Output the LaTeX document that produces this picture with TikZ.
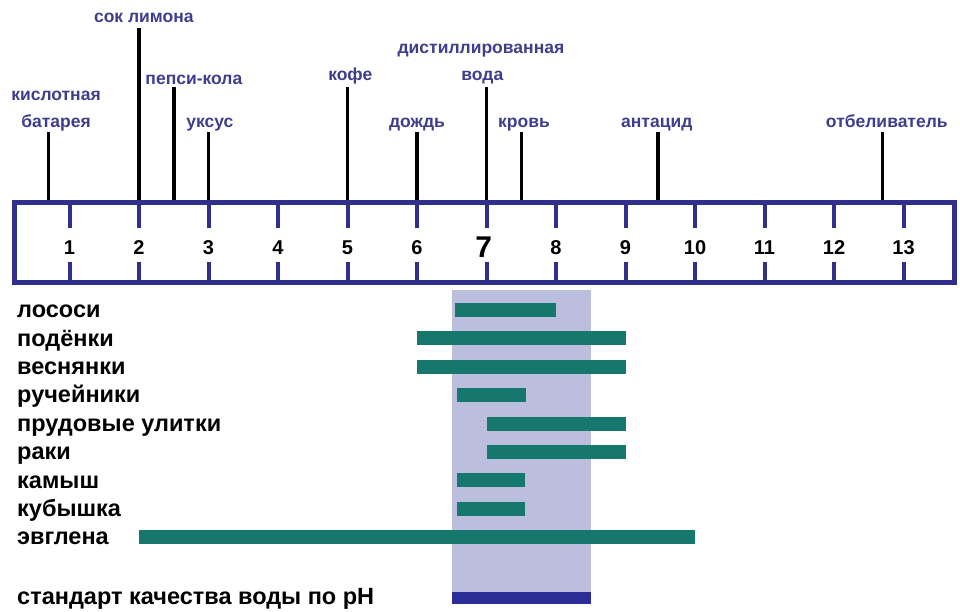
\documentclass[tikz,border=0pt]{standalone}
\usepackage{fontspec}
\setmainfont{Liberation Sans}
\usetikzlibrary{positioning}
\definecolor{rulerblue}{RGB}{48,48,140}
\definecolor{labelblue}{RGB}{62,62,140}
\definecolor{bandgrey}{RGB}{188,190,222}
\definecolor{barteal}{RGB}{22,120,108}
\definecolor{stdblue}{RGB}{44,44,150}
\tikzset{x = 69.5pt, y = -1pt,
	 ruler/.style = {draw = rulerblue, line width = 5pt,
			 minimum width = 940pt, minimum height = 80pt,
			 inner sep = 0pt},
	 tick/.style = {rulerblue, line width = 4pt},
	 pin/.style = {black, line width = 3.5pt},
	 substance/.style = {text = labelblue, anchor = base, inner sep = 0pt,
			     font = \fontsize{17.5}{20}\selectfont\bfseries},
	 phnum/.style = {font = \fontsize{20}{24}\selectfont\bfseries},
	 organism/.style = {anchor = mid west, inner sep = 0pt,
			    font = \fontsize{23.5}{28}\selectfont\bfseries},
	 rangebar/.style = {fill = barteal}}

\begin{document}
\begin{tikzpicture}
      \useasboundingbox (0,0) rectangle (13.813,612);
      \fill[bandgrey] (6.5,290) rectangle (8.5,604);
      \node [ruler] (scale) at (6.978,243) {};
      \foreach \n in {1,...,13} {
	\draw[tick] (\n,203) -- (\n,228);
	\draw[tick] (\n,262) -- (\n,283);
      }
      \foreach \n in {1,...,6,8,9,10,11,12,13}
	\node [phnum] (n\n) at (\n,248) {\n};
      \node [phnum, font = \fontsize{30}{34}\selectfont\bfseries] (n7) at (6.96,247) {7};
      \node [substance] (batt1) at (0.806,101) {кислотная};
      \node [substance] (batt2) at (0.806,127.5) {батарея};
      \node [substance] (lemon) at (2.07,22.5) {сок лимона};
      \node [substance] (pepsi) at (2.79,85) {пепси-кола};
      \node [substance] (vinegar) at (3.02,127.5) {уксус};
      \node [substance] (coffee) at (5.04,81) {кофе};
      \node [substance] (rain) at (6.0,127.5) {дождь};
      \node [substance] (water1) at (6.92,54) {дистиллированная};
      \node [substance] (water2) at (6.94,81) {вода};
      \node [substance] (blood) at (7.54,127.5) {кровь};
      \node [substance] (antacid) at (9.45,127.5) {антацид};
      \node [substance] (bleach) at (12.76,127.5) {отбеливатель};
      \coordinate (p-batt) at (0.7,132);
      \coordinate (p-lemon) at (2,28);
      \coordinate (p-pepsi) at (2.5,87);
      \coordinate (p-vinegar) at (3,132);
      \coordinate (p-coffee) at (5,87);
      \coordinate (p-rain) at (6,132);
      \coordinate (p-water) at (7,87);
      \coordinate (p-blood) at (7.5,132);
      \coordinate (p-antacid) at (9.47,132);
      \coordinate (p-bleach) at (12.7,132);
      \foreach \p in {p-batt, p-lemon, p-pepsi, p-vinegar, p-coffee,
		      p-rain, p-water, p-blood, p-antacid, p-bleach}
	\draw[pin] (\p) -- (\p |- scale.north);
      \foreach \a/\b [count = \i from 0] in {6.55/8, 6/9, 6/9, 6.58/7.57, 7/9,
					     7/9, 6.58/7.55, 6.58/7.55, 2/10}
	\fill[rangebar] (\a,303+28.4*\i) rectangle (\b,317+28.4*\i);
      \foreach \name [count = \i from 0] in {лососи, подёнки, веснянки,
					     ручейники, прудовые улитки, раки,
					     камыш, кубышка, эвглена}
	\node [organism] (o\i) at (0.245,315+28.4*\i) {\name};
      \node [organism] (std) at (0.245,602) {стандарт качества воды по pH};
      \fill[stdblue] (6.5,592) rectangle (8.5,604);
    \end{tikzpicture}
\end{document}
